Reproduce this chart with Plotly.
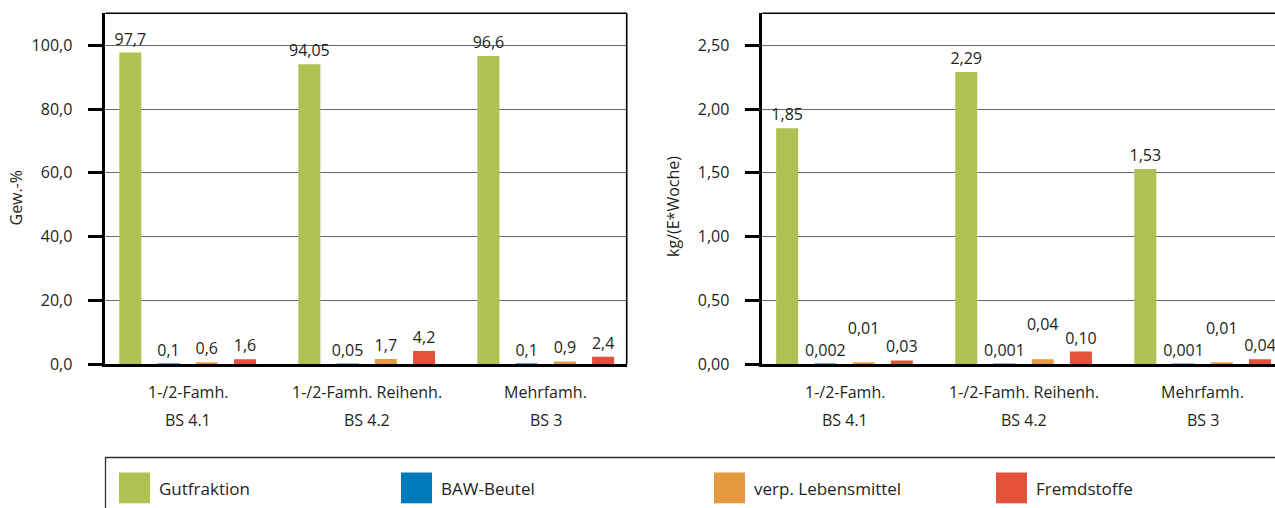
import plotly.graph_objects as go

# ---------------- data ----------------
categories = ["1-/2-Famh. BS 4.1", "1-/2-Famh. Reihenh. BS 4.2", "Mehrfamh. BS 3"]
cat_line1 = ["1-/2-Famh.", "1-/2-Famh. Reihenh.", "Mehrfamh."]
cat_line2 = ["BS 4.1", "BS 4.2", "BS 3"]

series_names = ["Gutfraktion", "BAW-Beutel", "verp. Lebensmittel", "Fremdstoffe"]
series_colors = ["#AEC152", "#0079BA", "#E69A40", "#E4503A"]

# Gew.-%
pct_gut = [97.7, 94.05, 96.6]
pct_baw = [0.1, 0.05, 0.1]
pct_verp = [0.6, 1.7, 0.9]
pct_fremd = [1.6, 4.2, 2.4]
pct_gut_lbl = ["97,7", "94,05", "96,6"]
pct_baw_lbl = ["0,1", "0,05", "0,1"]
pct_verp_lbl = ["0,6", "1,7", "0,9"]
pct_fremd_lbl = ["1,6", "4,2", "2,4"]

# kg/(E*Woche)
kg_gut = [1.85, 2.29, 1.53]
kg_baw = [0.002, 0.001, 0.001]
kg_verp = [0.01, 0.04, 0.01]
kg_fremd = [0.03, 0.10, 0.04]
kg_gut_lbl = ["1,85", "2,29", "1,53"]
kg_baw_lbl = ["0,002", "0,001", "0,001"]
kg_verp_lbl = ["0,01", "0,04", "0,01"]
kg_fremd_lbl = ["0,03", "0,10", "0,04"]

pct_ticks = [0, 20, 40, 60, 80, 100]
kg_ticks = [0, 0.5, 1.0, 1.5, 2.0, 2.5]

# ---------------- layout constants ----------------
REF_W, REF_H = 1275, 508      # target picture size
W, H = 1275, 519              # figure size (picture is fitted to the window)
SY = H / REF_H
FONT = "Open Sans"
TXT = "#231f20"

def px_x(v):
    return v / REF_W

def px_y(v):
    return 1 - v / REF_H

L_x0, L_x1 = 105.3, 626.7
R_x0 = 762.3
Y_top, Y_bot = 13.3, 364.3

fig = go.Figure()

left_vals = [pct_gut, pct_baw, pct_verp, pct_fremd]
left_lbls = [pct_gut_lbl, pct_baw_lbl, pct_verp_lbl, pct_fremd_lbl]
right_vals = [kg_gut, kg_baw, kg_verp, kg_fremd]
right_lbls = [kg_gut_lbl, kg_baw_lbl, kg_verp_lbl, kg_fremd_lbl]

for i in range(4):
    line_w = 1 if i == 1 else 0
    fig.add_trace(go.Bar(
        x=categories, y=left_vals[i], text=left_lbls[i], name=series_names[i],
        marker=dict(color=series_colors[i], line=dict(color=series_colors[i], width=line_w)),
        textposition="outside", constraintext="none", cliponaxis=False,
        textfont=dict(family=FONT, size=16, color=TXT),
        xaxis="x", yaxis="y", showlegend=False, hoverinfo="skip",
    ))
for i in range(4):
    line_w = 1 if i == 1 else 0
    lbl = right_lbls[i]
    if i == 2:  # labels lifted one line as in the original
        lbl = [t + "<br>&nbsp;" for t in lbl]
    fig.add_trace(go.Bar(
        x=categories, y=right_vals[i], text=lbl, name=series_names[i],
        marker=dict(color=series_colors[i], line=dict(color=series_colors[i], width=line_w)),
        textposition="outside", constraintext="none", cliponaxis=False,
        textfont=dict(family=FONT, size=16, color=TXT),
        xaxis="x2", yaxis="y2", showlegend=False, hoverinfo="skip",
    ))

ydom = [px_y(Y_bot), px_y(Y_top)]

common_y = dict(
    ticks="outside", ticklen=15, tickwidth=2.5, tickcolor="black",
    showline=True, linecolor="black", linewidth=2.5,
    showgrid=True, gridcolor="#6a6a6a", gridwidth=1,
    zeroline=False, ticklabelstandoff=12,
    tickfont=dict(family=FONT, size=16, color=TXT),
    domain=ydom,
)
common_x = dict(
    type="category", showticklabels=False, ticks="",
    showline=True, linecolor="black", linewidth=2.5,
    showgrid=False, zeroline=False,
)

fig.update_layout(
    width=W, height=H,
    margin=dict(l=0, r=0, t=0, b=0),
    paper_bgcolor="white", plot_bgcolor="white",
    separators=",.",
    barmode="group", bargap=0.146, bargroupgap=0.424,
    font=dict(family=FONT, size=16, color=TXT),
    xaxis=dict(domain=[px_x(L_x0), px_x(L_x1)], range=[-0.46, 2.452], anchor="y", **common_x),
    yaxis=dict(range=[0, 110], tickvals=pct_ticks, tickformat=".1f", anchor="x", **common_y),
    xaxis2=dict(domain=[px_x(R_x0), 1.0], range=[-0.459, 2.404], anchor="y2", **common_x),
    yaxis2=dict(range=[0, 2.75], tickvals=kg_ticks, tickformat=".2f", anchor="x2", **common_y),
)

shapes = []
# frame: top borders and right border of left chart
shapes.append(dict(type="line", xref="paper", yref="paper",
                   x0=px_x(L_x0), x1=px_x(L_x1), y0=ydom[1], y1=ydom[1],
                   line=dict(color="black", width=1.6)))
shapes.append(dict(type="line", xref="paper", yref="paper",
                   x0=px_x(L_x1), x1=px_x(L_x1), y0=ydom[0], y1=ydom[1],
                   line=dict(color="black", width=1.6)))
shapes.append(dict(type="line", xref="paper", yref="paper",
                   x0=px_x(R_x0), x1=1.02, y0=ydom[1], y1=ydom[1],
                   line=dict(color="black", width=1.6)))

# legend box
shapes.append(dict(type="rect", xref="paper", yref="paper",
                   x0=px_x(105.5), x1=1.05, y0=px_y(457.5), y1=-0.2,
                   line=dict(color="#333333", width=1.3), fillcolor="rgba(0,0,0,0)"))

annotations = []
leg_sw_x = [119, 401, 714, 996]
leg_txt_x = [157, 439, 752, 1034]
for i in range(4):
    shapes.append(dict(type="rect", xref="paper", yref="paper",
                       x0=px_x(leg_sw_x[i]), x1=px_x(leg_sw_x[i] + 31),
                       y0=px_y(503.3), y1=px_y(472.5),
                       line=dict(width=0), fillcolor=series_colors[i]))
    annotations.append(dict(xref="paper", yref="paper", x=px_x(leg_txt_x[i]), y=px_y(488.5),
                            xanchor="left", yanchor="middle", showarrow=False,
                            text=series_names[i], font=dict(family=FONT, size=17, color=TXT)))

# category labels (two lines)
for xr in ["x", "x2"]:
    for c, l1, l2 in zip(categories, cat_line1, cat_line2):
        annotations.append(dict(xref=xr, yref="paper", x=c, y=ydom[0], yshift=-27 * SY,
                                xanchor="center", yanchor="middle", showarrow=False,
                                text=l1, font=dict(family=FONT, size=16, color=TXT)))
        annotations.append(dict(xref=xr, yref="paper", x=c, y=ydom[0], yshift=-54.5 * SY,
                                xanchor="center", yanchor="middle", showarrow=False,
                                text=l2, font=dict(family=FONT, size=16, color=TXT)))

# axis titles
annotations.append(dict(xref="paper", yref="paper", x=px_x(15), y=px_y(197.5),
                        xanchor="center", yanchor="middle", showarrow=False, textangle=-90,
                        text="Gew.-%", font=dict(family=FONT, size=16, color=TXT)))
annotations.append(dict(xref="paper", yref="paper", x=px_x(673), y=px_y(207),
                        xanchor="center", yanchor="middle", showarrow=False, textangle=-90,
                        text="kg/(E*Woche)", font=dict(family=FONT, size=16, color=TXT)))

fig.update_layout(shapes=shapes, annotations=annotations, hovermode=False)

# place the figure flush with the window corner (no default page margin)
fig.write_html(
    "out.html",
    config={"displayModeBar": False},
    post_script="document.body.style.margin='0';document.body.style.overflow='hidden';",
)
